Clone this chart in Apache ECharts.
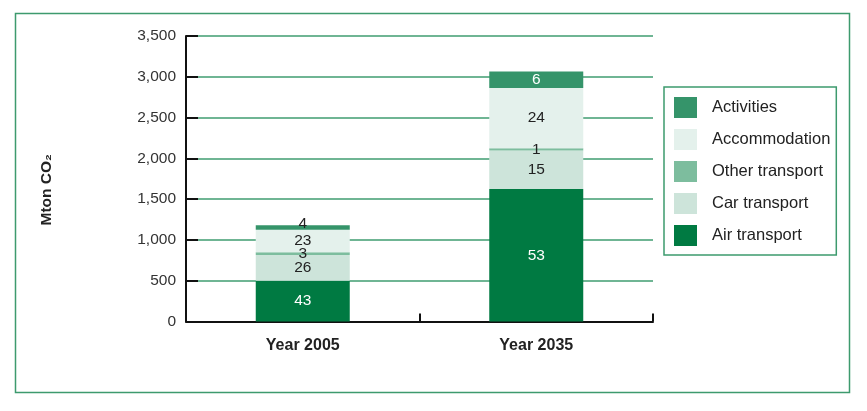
<!DOCTYPE html>
<html>
<head>
<meta charset="utf-8">
<script src="https://cdn.jsdelivr.net/npm/echarts@6/dist/echarts.min.js"></script>
<style>
html,body{margin:0;padding:0;background:#fff;}
#chart{width:867px;height:411px;}
</style>
</head>
<body>
<div id="chart"></div>
<script>
// Data (Mton CO2)
const categories = ['Year 2005', 'Year 2035'];
const airTransport = [500, 1625];
const carTransport = [315, 470];
const otherTransport = [35, 30];
const accommodation = [275, 737];
const activities = [55, 204];
// Percentage shares printed on the bars
const airPct = [43, 53];
const carPct = [26, 15];
const otherPct = [3, 1];
const accomPct = [23, 24];
const actPct = [4, 6];
const yTicks = [0, 500, 1000, 1500, 2000, 2500, 3000, 3500];

const FONT = 'Liberation Sans, Arial, sans-serif';
const colors = {
  air: '#007a42',
  car: '#cde4da',
  other: '#7dbd9e',
  accom: '#e4f1ec',
  act: '#35946a'
};

function mk(name, data, pct, color, labelColor) {
  return {
    name: name,
    type: 'bar',
    stack: 'total',
    barWidth: 94,
    data: data,
    itemStyle: { color: color },
    label: {
      show: true,
      position: 'inside',
      color: labelColor,
      fontFamily: FONT,
      fontSize: 15.5,
      formatter: p => String(pct[p.dataIndex])
    }
  };
}

const chart = echarts.init(document.getElementById('chart'));
chart.setOption({
  animation: false,
  backgroundColor: '#fff',
  graphic: [{
    type: 'rect',
    shape: { x: 15.5, y: 13.5, width: 834, height: 379 },
    style: { fill: 'none', stroke: '#3d9a6e', lineWidth: 1.5 },
    z: -10
  }],
  grid: { left: 186, right: 214, top: 36, bottom: 89.5, containLabel: false },
  legend: {
    orient: 'vertical',
    left: 664,
    top: 87,
    padding: [10, 6, 9, 10],
    borderColor: '#3d9a6e',
    borderWidth: 1.5,
    itemWidth: 23,
    itemHeight: 21,
    itemGap: 11,
    icon: 'rect',
    data: ['Activities', 'Accommodation', 'Other transport', 'Car transport', 'Air transport'],
    textStyle: { fontFamily: FONT, fontSize: 16.5, color: '#222', padding: [0, 0, 0, 10] }
  },
  xAxis: {
    type: 'category',
    data: categories,
    axisLine: { lineStyle: { color: '#111', width: 2 } },
    axisTick: { show: true, inside: true, length: 8, lineStyle: { color: '#111', width: 2 } },
    axisLabel: { fontFamily: FONT, fontSize: 16, fontWeight: 'bold', color: '#222', margin: 16 }
  },
  yAxis: {
    type: 'value',
    min: yTicks[0],
    max: yTicks[yTicks.length - 1],
    interval: 500,
    name: 'Mton CO\u2082',
    nameLocation: 'middle',
    nameGap: 131,
    nameRotate: 90,
    nameTextStyle: { fontFamily: FONT, fontSize: 15.5, fontWeight: 'bold', color: '#222', padding: [0, 22, 0, 0] },
    axisLine: { show: true, lineStyle: { color: '#111', width: 2 } },
    axisTick: { show: true, inside: true, length: 12, lineStyle: { color: '#111', width: 2 } },
    axisLabel: {
      fontFamily: FONT, fontSize: 15.5, color: '#333', margin: 10,
      formatter: v => v.toLocaleString('en-US')
    },
    splitLine: { show: true, lineStyle: { color: '#3f9d70', width: 1.5 } }
  },
  series: [
    mk('Air transport', airTransport, airPct, colors.air, '#ffffff'),
    mk('Car transport', carTransport, carPct, colors.car, '#222'),
    mk('Other transport', otherTransport, otherPct, colors.other, '#222'),
    mk('Accommodation', accommodation, accomPct, colors.accom, '#222'),
    mk('Activities', activities, actPct, colors.act, '#222')
  ]
});
// Per-bar label styling for the activities series (white on the tall bar, nudged up on the short one)
chart.setOption({
  series: [{}, {}, {}, {}, {
    data: activities.map((v, i) => ({
      value: v,
      label: i === 0 ? { color: '#222', offset: [0, -4] } : { color: '#ffffff' }
    }))
  }]
});
</script>
</body>
</html>
